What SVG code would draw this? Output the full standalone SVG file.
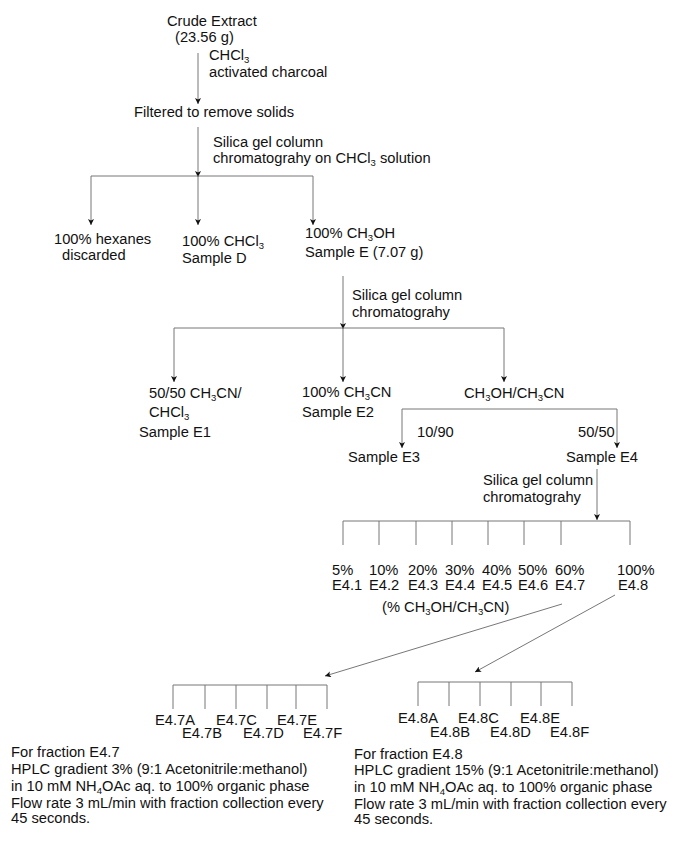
<svg xmlns="http://www.w3.org/2000/svg" width="685" height="860" viewBox="0 0 685 860">
<style>
text{font-family:"Liberation Sans",Arial,Helvetica,sans-serif;font-size:14.7px;fill:#111}
.s{font-size:9.5px}
.c line,.c polyline{stroke:#777;stroke-width:1;fill:none}
.a{marker-end:url(#ah)}
</style>
<defs>
<marker id="ah" viewBox="0 0 10 10" refX="10" refY="5" markerWidth="9" markerHeight="6" markerUnits="userSpaceOnUse" orient="auto">
<path d="M0,0 L10,5 L0,10 L2.5,5 z" fill="#111"/>
</marker>
</defs>
<rect width="685" height="860" fill="#fff"/>
<g id="connectors" class="c">
<line class="a" x1="198" y1="53" x2="198" y2="104"/>
<line class="a" x1="198" y1="127" x2="198" y2="177"/>
<line x1="91" y1="176" x2="313" y2="176"/>
<line class="a" x1="91" y1="176" x2="91" y2="225"/>
<line class="a" x1="198" y1="176" x2="198" y2="225"/>
<line class="a" x1="313" y1="176" x2="313" y2="225"/>
<line class="a" x1="343" y1="276" x2="343" y2="329"/>
<line x1="174" y1="328" x2="504" y2="328"/>
<line class="a" x1="174" y1="328" x2="174" y2="382"/>
<line class="a" x1="343" y1="328" x2="343" y2="382"/>
<line class="a" x1="504" y1="328" x2="504" y2="382"/>
<line x1="402" y1="409" x2="617" y2="409"/>
<line class="a" x1="402" y1="409" x2="402" y2="448"/>
<line class="a" x1="617" y1="409" x2="617" y2="448"/>
<line class="a" x1="597" y1="469" x2="597" y2="520"/>
<line x1="343" y1="521" x2="630" y2="521"/>
<line x1="343" y1="521" x2="343" y2="545"/>
<line x1="379" y1="521" x2="379" y2="545"/>
<line x1="416" y1="521" x2="416" y2="545"/>
<line x1="452" y1="521" x2="452" y2="545"/>
<line x1="488" y1="521" x2="488" y2="545"/>
<line x1="524" y1="521" x2="524" y2="545"/>
<line x1="561" y1="521" x2="561" y2="545"/>
<line x1="630" y1="521" x2="630" y2="545"/>
<line class="a" x1="562" y1="604" x2="325" y2="676"/>
<line class="a" x1="615" y1="595" x2="475" y2="672"/>
<line x1="173" y1="685" x2="327" y2="685"/>
<line x1="173" y1="685" x2="173" y2="709"/>
<line x1="205" y1="685" x2="205" y2="709"/>
<line x1="236" y1="685" x2="236" y2="709"/>
<line x1="267" y1="685" x2="267" y2="709"/>
<line x1="296" y1="685" x2="296" y2="709"/>
<line x1="327" y1="685" x2="327" y2="709"/>
<line x1="418" y1="682" x2="572" y2="682"/>
<line x1="418" y1="682" x2="418" y2="706"/>
<line x1="449" y1="682" x2="449" y2="706"/>
<line x1="480" y1="682" x2="480" y2="706"/>
<line x1="511" y1="682" x2="511" y2="706"/>
<line x1="541" y1="682" x2="541" y2="706"/>
<line x1="572" y1="682" x2="572" y2="706"/>
</g>
<g id="crude">
<text x="167" y="26">Crude Extract</text>
<text x="175" y="42">(23.56 g)</text>
</g>
<g id="step1">
<text x="209" y="60">CHCl<tspan class="s" dy="3">3</tspan></text>
<text x="209" y="77">activated charcoal</text>
</g>
<g id="filtered"><text x="134" y="117">Filtered to remove solids</text></g>
<g id="step2">
<text x="213" y="147">Silica gel column</text>
<text x="213" y="163">chromatograhy on CHCl<tspan class="s" dy="3">3</tspan><tspan dy="-3"> solution</tspan></text>
</g>
<g id="hexanes">
<text x="54" y="244">100% hexanes</text>
<text x="62" y="260">discarded</text>
</g>
<g id="sampleD">
<text x="182" y="246">100% CHCl<tspan class="s" dy="3">3</tspan></text>
<text x="182" y="263">Sample D</text>
</g>
<g id="sampleE">
<text x="305" y="238">100% CH<tspan class="s" dy="3">3</tspan><tspan dy="-3">OH</tspan></text>
<text x="305" y="257">Sample E (7.07 g)</text>
</g>
<g id="step3">
<text x="352" y="300">Silica gel column</text>
<text x="352" y="317">chromatograhy</text>
</g>
<g id="sampleE1">
<text x="149" y="398">50/50 CH<tspan class="s" dy="3">3</tspan><tspan dy="-3">CN/</tspan></text>
<text x="149" y="417">CHCl<tspan class="s" dy="3">3</tspan></text>
<text x="139" y="437">Sample E1</text>
</g>
<g id="sampleE2">
<text x="302" y="397">100% CH<tspan class="s" dy="3">3</tspan><tspan dy="-3">CN</tspan></text>
<text x="302" y="417">Sample E2</text>
</g>
<g id="mix">
<text x="464" y="398">CH<tspan class="s" dy="3">3</tspan><tspan dy="-3">OH/CH</tspan><tspan class="s" dy="3">3</tspan><tspan dy="-3">CN</tspan></text>
<text x="417" y="437">10/90</text>
<text x="578" y="437">50/50</text>
</g>
<g id="sampleE3"><text x="348" y="462">Sample E3</text></g>
<g id="sampleE4"><text x="566" y="462">Sample E4</text></g>
<g id="step4">
<text x="483" y="485">Silica gel column</text>
<text x="483" y="502">chromatograhy</text>
</g>
<g id="fractionsE4">
<text x="332" y="575">5%</text><text x="332" y="590">E4.1</text>
<text x="369" y="575">10%</text><text x="369" y="590">E4.2</text>
<text x="408" y="575">20%</text><text x="408" y="590">E4.3</text>
<text x="445" y="575">30%</text><text x="445" y="590">E4.4</text>
<text x="482" y="575">40%</text><text x="482" y="590">E4.5</text>
<text x="518" y="575">50%</text><text x="518" y="590">E4.6</text>
<text x="555" y="575">60%</text><text x="555" y="590">E4.7</text>
<text x="617" y="575">100%</text><text x="618" y="590">E4.8</text>
<text x="382" y="612">(% CH<tspan class="s" dy="3">3</tspan><tspan dy="-3">OH/CH</tspan><tspan class="s" dy="3">3</tspan><tspan dy="-3">CN)</tspan></text>
</g>
<g id="fractionsE47">
<text x="155" y="725">E4.7A</text>
<text x="182" y="738">E4.7B</text>
<text x="216" y="725">E4.7C</text>
<text x="243" y="738">E4.7D</text>
<text x="277" y="725">E4.7E</text>
<text x="303" y="738">E4.7F</text>
</g>
<g id="fractionsE48">
<text x="398" y="723">E4.8A</text>
<text x="430" y="737">E4.8B</text>
<text x="458" y="723">E4.8C</text>
<text x="490" y="737">E4.8D</text>
<text x="520" y="723">E4.8E</text>
<text x="550" y="737">E4.8F</text>
</g>
<g id="noteE47">
<text x="11" y="757">For fraction E4.7</text>
<text x="11" y="774">HPLC gradient 3% (9:1 Acetonitrile:methanol)</text>
<text x="11" y="791">in 10 mM NH<tspan class="s" dy="2.5">4</tspan><tspan dy="-2.5">OAc aq. to 100% organic phase</tspan></text>
<text x="11" y="808">Flow rate 3 mL/min with fraction collection every</text>
<text x="11" y="823">45 seconds.</text>
</g>
<g id="noteE48">
<text x="354" y="759">For fraction E4.8</text>
<text x="354" y="775">HPLC gradient 15% (9:1 Acetonitrile:methanol)</text>
<text x="354" y="792">in 10 mM NH<tspan class="s" dy="2.5">4</tspan><tspan dy="-2.5">OAc aq. to 100% organic phase</tspan></text>
<text x="354" y="809">Flow rate 3 mL/min with fraction collection every</text>
<text x="354" y="824">45 seconds.</text>
</g>
</svg>
